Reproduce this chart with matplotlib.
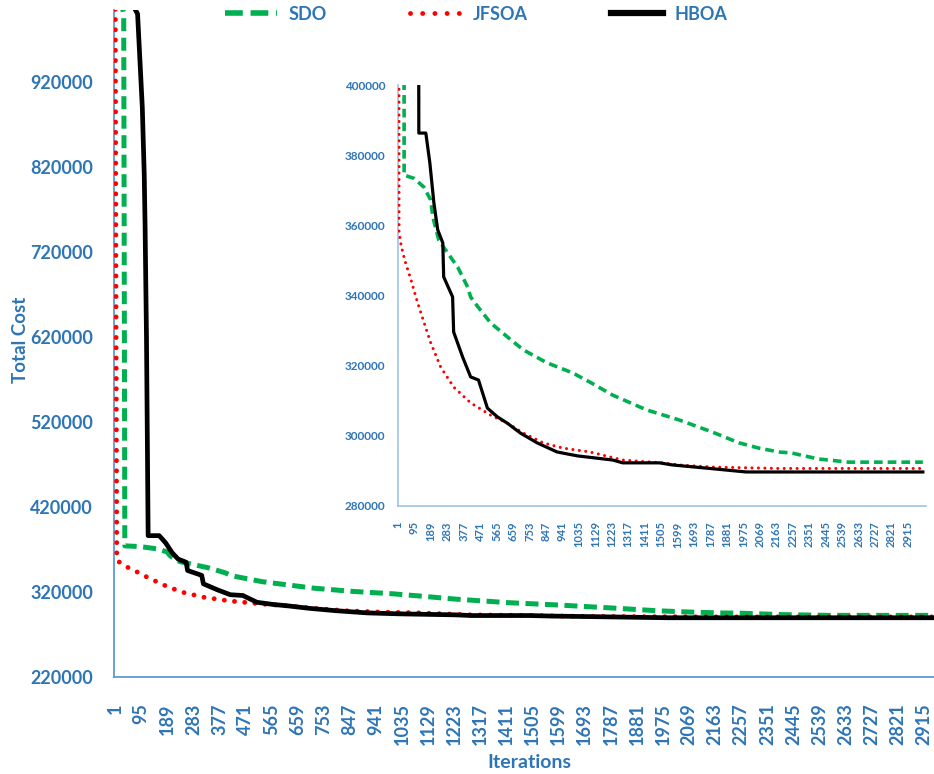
import matplotlib
matplotlib.use("Agg")
import matplotlib.pyplot as plt
from matplotlib.lines import Line2D

plt.rcParams['font.family'] = ['Lato', 'DejaVu Sans']

# convergence curves (iteration, total cost)
sdo_iter = [1, 32, 36, 92, 149, 188, 200, 234, 285, 342, 399, 416, 440, 530, 626,
            717, 853, 1001, 1041, 1098, 1228, 1421, 1609, 1796, 1950, 2063, 2177,
            2251, 2404, 2575, 3000]
sdo_cost = [1050000, 1000000, 374300, 373400, 370900, 367200, 362400, 355800, 352100,
            348100, 342400, 339600, 337900, 332200, 328200, 324500, 320800, 317900,
            316800, 315300, 311600, 307400, 304500, 301100, 298000, 296500, 295400,
            295100, 293400, 292500, 292500]

jfsoa_iter = [1, 4, 7, 20, 40, 75, 103, 132, 188, 245, 319, 416, 530, 626, 717, 830,
              944, 1098, 1285, 1512, 1608, 1796, 2177, 3000]
jfsoa_cost = [1100000, 700000, 358000, 354000, 350000, 344500, 339600, 335000, 326500,
              319600, 313900, 309400, 305900, 303600, 300800, 298000, 296500, 295400,
              293100, 292300, 291700, 291100, 290700, 290700]

hboa_iter = [1, 82, 99, 106, 109, 114, 120, 160, 183, 206, 228, 257, 262, 313, 319,
             370, 416, 461, 512, 569, 626, 700, 796, 910, 1024, 1228, 1285, 1495,
             1569, 1762, 1990, 3000]
hboa_cost = [1050000, 1000000, 890000, 810000, 750000, 620000, 386300, 386300, 377800,
             366400, 358700, 355000, 345300, 339600, 329600, 322500, 316800, 315900,
             307900, 305400, 303600, 300800, 298000, 295400, 294300, 293100, 292300,
             292300, 291700, 290800, 289700, 289700]

x_ticks = list(range(1, 3001, 94))
main_y_ticks = list(range(220000, 1000001, 100000))
inset_y_ticks = list(range(280000, 400001, 20000))

BLUE = '#2E75B6'
GREEN = '#00B050'
RED = '#FF0000'

W, H = 934, 774
fig = plt.figure(figsize=(W / 100, H / 100), dpi=100)


def box(l, t, r, b):
    return [l / W, 1 - b / H, (r - l) / W, (b - t) / H]


def style_axes(a, spine_color, spine_w):
    for s in ('top', 'right'):
        a.spines[s].set_visible(False)
    for s in ('left', 'bottom'):
        a.spines[s].set_color(spine_color)
        a.spines[s].set_linewidth(spine_w)
        a.spines[s].set_zorder(1)
    a.set_facecolor('none')


# main chart
ax = fig.add_axes(box(114, 10, 934, 677))
ax.plot(sdo_iter, sdo_cost, color=GREEN, lw=3.6, dashes=(2.6, 1.3), zorder=3)
ax.plot(jfsoa_iter, jfsoa_cost, color=RED, lw=3.5, dashes=(0.01, 2.1),
        dash_capstyle='round', zorder=3)
ax.plot(hboa_iter, hboa_cost, color='black', lw=3.4, zorder=4)
ax.set_xlim(1 - 4, 1 + (934 - 118) / 0.2766)
ax.set_ylim(220000, 220000 + (677 - 10) / 85 * 100000)
ax.set_xticks(x_ticks)
ax.set_xticklabels([str(t) for t in x_ticks], rotation=90, fontsize=13,
                   fontweight='bold', color=BLUE, va='top')
ax.set_yticks(main_y_ticks)
ax.set_yticklabels([str(t) for t in main_y_ticks], fontsize=13,
                   fontweight='bold', color=BLUE)
ax.tick_params(axis='x', length=0, pad=19)
ax.tick_params(axis='y', length=0, pad=15)
style_axes(ax, '#5B9BD5', 1.3)

fig.text(20 / W, 1 - 340 / H, 'Total Cost', rotation=90, ha='center', va='center',
         fontsize=13.5, fontweight='bold', color=BLUE)
fig.text(529 / W, 1 - 762 / H, 'Iterations', ha='center', va='center',
         fontsize=14, fontweight='bold', color=BLUE)

# zoomed inset
ins = fig.add_axes(box(398, 85, 926, 506))
ins.plot(sdo_iter, sdo_cost, color=GREEN, lw=2.6, dashes=(2.4, 1.4), zorder=3)
ins.plot(jfsoa_iter, jfsoa_cost, color=RED, lw=2.2, dashes=(0.01, 2.1),
         dash_capstyle='round', zorder=3)
ins.plot(hboa_iter, hboa_cost, color='black', lw=2.3, zorder=4)
ins.set_xlim(1, 1 + (926 - 398) / 0.175)
ins.set_ylim(280000, 400000)
ins.set_xticks(x_ticks)
ins.set_xticklabels([str(t) for t in x_ticks], rotation=90, fontsize=8,
                    fontweight='bold', color=BLUE, va='top')
ins.set_yticks(inset_y_ticks)
ins.set_yticklabels([str(t) for t in inset_y_ticks], fontsize=8.5,
                    fontweight='bold', color=BLUE)
ins.tick_params(axis='x', length=0, pad=11)
ins.tick_params(axis='y', length=0, pad=9)
style_axes(ins, '#9DC3E6', 1.2)

# legend along the top
handles = [
    Line2D([], [], color=GREEN, lw=4, dashes=(3.2, 1.4)),
    Line2D([], [], color=RED, lw=3.5, dashes=(0.01, 2.5), dash_capstyle='round'),
    Line2D([], [], color='black', lw=4.5),
]
leg = fig.legend(handles, ['SDO', 'JFSOA', 'HBOA'], ncol=3, frameon=False,
                 loc='upper center', bbox_to_anchor=(476 / W, 1 - 2 / H),
                 prop={'size': 13, 'weight': 'bold'}, labelcolor=BLUE,
                 handlelength=2.9, handletextpad=0.6, columnspacing=4.6,
                 borderaxespad=0, borderpad=0.2)

fig.savefig('out.png', dpi=100)
